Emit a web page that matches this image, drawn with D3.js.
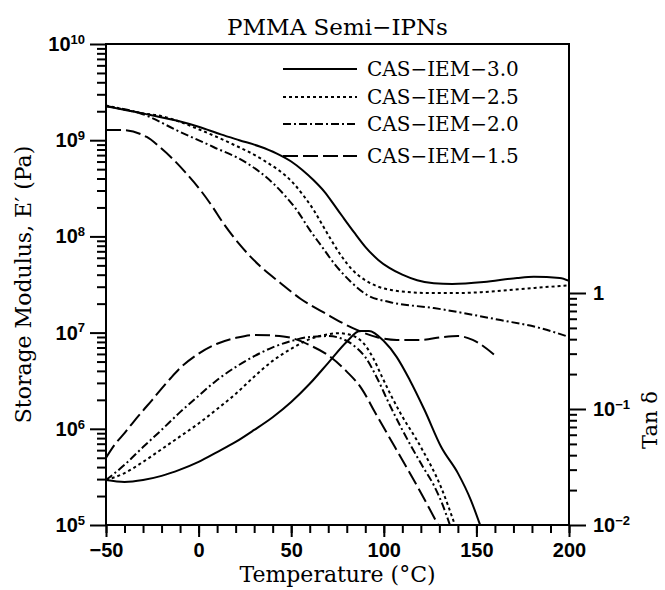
<!DOCTYPE html>
<html>
<head>
<meta charset="utf-8">
<script src="https://cdn.jsdelivr.net/npm/d3@7"></script>
<style>
body { margin: 0; background: #fff; }
</style>
</head>
<body>
<div id="chart"></div>
<script>
// sample names, as in the legend
var series = ["CAS−IEM−3.0", "CAS−IEM−2.5", "CAS−IEM−2.0", "CAS−IEM−1.5"];

// storage modulus E' (Pa) against temperature (°C)
var mod30 = [[-50,2.26e9],[-30,1.9e9],[-12,1.6e9],[0,1.38e9],[12,1.15e9],[22,1.0e9],[33,8.6e8],[42,7.3e8],[50,6.0e8],[56,4.9e8],[62,3.85e8],[68,2.9e8],[73,2.15e8],[78,1.58e8],[84,1.1e8],[90,7.8e7],[97,5.7e7],[103,4.7e7],[110,4.0e7],[118,3.5e7],[127,3.25e7],[137,3.2e7],[154,3.35e7],[172,3.7e7],[181,3.8e7],[195,3.7e7],[200,3.45e7]];
var mod25 = [[-50,2.3e9],[-30,1.9e9],[-20,1.78e9],[-10,1.55e9],[0,1.3e9],[17,9.35e8],[35,6.2e8],[51,3.6e8],[57,2.6e8],[62,1.9e8],[67,1.3e8],[72,8.9e7],[77,6.3e7],[83,4.5e7],[90,3.5e7],[97,3.0e7],[105,2.75e7],[115,2.62e7],[125,2.58e7],[140,2.58e7],[154,2.64e7],[180,2.9e7],[200,3.1e7]];
var mod20 = [[-50,2.26e9],[-32,1.92e9],[-10,1.22e9],[8,8.5e8],[26,5.8e8],[40,3.6e8],[47,2.6e8],[53,1.88e8],[60,1.17e8],[66,8.1e7],[74,5.0e7],[82,3.4e7],[91,2.46e7],[103,2.08e7],[127,1.8e7],[163,1.35e7],[184,1.12e7],[200,9.0e6]];
var mod15 = [[-50,1.28e9],[-42,1.28e9],[-28,1.08e9],[-21,8.5e8],[-14,6.4e8],[-7,4.6e8],[0,3.2e8],[7,2.1e8],[13,1.4e8],[22,8.3e7],[33,4.95e7],[44,3.3e7],[55,2.25e7],[69,1.56e7],[83,1.12e7],[96,9.0e6],[107,8.4e6],[120,8.4e6],[132,9.0e6],[140,9.2e6],[148,8.4e6],[160,5.8e6]];

// tan delta against temperature (°C)
var tan30 = [[-50,0.0244],[-40,0.0235],[-30,0.0244],[-20,0.0265],[-10,0.030],[0,0.035],[10,0.0425],[20,0.052],[30,0.066],[40,0.085],[50,0.115],[60,0.165],[70,0.25],[80,0.38],[87,0.47],[92,0.47],[100,0.385],[107,0.28],[114,0.178],[122,0.098],[131,0.047],[140,0.028],[147,0.0164],[152,0.01]];
var tan25 = [[-50,0.0244],[-40,0.028],[-30,0.035],[-20,0.045],[-10,0.058],[0,0.075],[10,0.10],[20,0.135],[30,0.19],[40,0.26],[50,0.33],[60,0.40],[68,0.435],[76,0.45],[83,0.43],[89,0.37],[94,0.28],[99,0.19],[104,0.13],[109,0.092],[120,0.047],[131,0.021],[138.4,0.01]];
var tan20 = [[-50,0.0244],[-40,0.033],[-30,0.047],[-20,0.066],[-10,0.094],[0,0.13],[10,0.178],[20,0.23],[30,0.285],[40,0.34],[50,0.385],[60,0.418],[70,0.425],[78,0.40],[85,0.34],[90,0.28],[96,0.19],[103,0.11],[110,0.066],[115,0.047],[121,0.032],[127,0.022],[131,0.016],[135.7,0.01]];
var tan15 = [[-50,0.038],[-45,0.05],[-40,0.062],[-35,0.078],[-30,0.097],[-25,0.12],[-20,0.15],[-15,0.185],[-10,0.225],[0,0.30],[10,0.365],[20,0.41],[30,0.435],[40,0.43],[50,0.41],[60,0.355],[70,0.29],[80,0.21],[88,0.15],[95,0.095],[106,0.047],[113,0.03],[120,0.019],[129.3,0.01]];

// tick values
var xMajor = [-50, 0, 50, 100, 150, 200];
var xMinor = d3.range(-50, 201, 10);
var eMajor = [1e5, 1e6, 1e7, 1e8, 1e9, 1e10];
var tMajor = [0.01, 0.1, 1];

var modSeries = [mod30, mod25, mod20, mod15];
var tanSeries = [tan30, tan25, tan20, tan15];
var dashes = [null, "3,3", "8,3,2,3", "15,5"];

// frame of the plot
var margin = {top: 44, right: 96, bottom: 65, left: 106},
    width = 665 - margin.left - margin.right,
    height = 590 - margin.top - margin.bottom;

var x = d3.scaleLinear().domain([-50, 200]).range([0, width]);
var yE = d3.scaleLog().domain([1e5, 1e10]).range([height, 0]);
// right axis: 116 px per decade, starting at 10^-2 on the bottom line
var yT = d3.scaleLog().domain([0.01, Math.pow(10, height / 116 - 2)]).range([height, 0]);

var svg = d3.select("#chart").append("svg")
    .attr("width", 665)
    .attr("height", 590)
    .style("background", "#fff");

var g = svg.append("g")
    .attr("transform", "translate(" + margin.left + "," + margin.top + ")");

var serif = "'DejaVu Serif', 'Liberation Serif', serif";
var sans = "'Liberation Sans', Arial, sans-serif";

// minor ticks from 2..9 of each decade
function minors(lo, hi) {
  var out = [];
  for (var p = lo; p < hi; p++)
    for (var k = 2; k <= 9; k++) out.push(k * Math.pow(10, p));
  return out;
}

function styleAxis(sel) {
  sel.select(".domain").remove();
  sel.selectAll("line").attr("stroke", "#000").attr("stroke-width", 2);
  sel.selectAll("text").attr("fill", "#000").attr("font-family", sans)
     .attr("font-weight", "bold").attr("font-size", 20);
}

// power-of-ten labels with a raised exponent
function powLabels(sel) {
  sel.selectAll("text").each(function(d) {
    var t = d3.select(this);
    var p = Math.round(Math.log10(d));
    t.text(null);
    if (p === 0) { t.append("tspan").text("1"); return; }
    t.append("tspan").text("10");
    t.append("tspan").attr("dy", "-0.55em").attr("font-size", 13)
     .text(p < 0 ? "−" + (-p) : p);
  });
}

// x axis
g.append("g").attr("transform", "translate(0," + height + ")")
    .call(d3.axisBottom(x).tickValues(xMinor).tickSize(8).tickFormat(""))
    .call(styleAxis);
g.append("g").attr("transform", "translate(0," + height + ")")
    .call(d3.axisBottom(x).tickValues(xMajor).tickSize(12).tickPadding(6)
      .tickFormat(function(d) { return d < 0 ? "−" + (-d) : d; }))
    .call(styleAxis);

// left axis
g.append("g")
    .call(d3.axisLeft(yE).tickValues(minors(5, 10)).tickSize(9).tickFormat(""))
    .call(styleAxis);
g.append("g")
    .call(d3.axisLeft(yE).tickValues(eMajor).tickSize(16).tickPadding(5))
    .call(styleAxis).call(powLabels);

// right axis
g.append("g").attr("transform", "translate(" + width + ",0)")
    .call(d3.axisRight(yT).tickValues(minors(-2, 0)).tickSize(8).tickFormat(""))
    .call(styleAxis);
g.append("g").attr("transform", "translate(" + width + ",0)")
    .call(d3.axisRight(yT).tickValues(tMajor).tickSize(17).tickPadding(7))
    .call(styleAxis).call(powLabels);

// frame
g.append("rect")
    .attr("width", width).attr("height", height)
    .attr("fill", "none").attr("stroke", "#000").attr("stroke-width", 2);

g.append("clipPath").attr("id", "clip")
  .append("rect").attr("width", width).attr("height", height);

var lineE = d3.line().curve(d3.curveMonotoneX)
    .x(function(d) { return x(d[0]); })
    .y(function(d) { return yE(d[1]); });
var lineT = d3.line().curve(d3.curveMonotoneX)
    .x(function(d) { return x(d[0]); })
    .y(function(d) { return yT(d[1]); });

var plot = g.append("g").attr("clip-path", "url(#clip)");

plot.selectAll(".mod")
    .data(modSeries)
  .enter().append("path")
    .attr("class", "mod")
    .attr("d", lineE)
    .attr("fill", "none").attr("stroke", "#000").attr("stroke-width", 2)
    .attr("stroke-dasharray", function(d, i) { return dashes[i]; });

plot.selectAll(".tan")
    .data(tanSeries)
  .enter().append("path")
    .attr("class", "tan")
    .attr("d", lineT)
    .attr("fill", "none").attr("stroke", "#000").attr("stroke-width", 2)
    .attr("stroke-dasharray", function(d, i) { return dashes[i]; });

// legend
var legRows = [25, 53, 80, 112];
var leg = g.selectAll(".leg")
    .data(series)
  .enter().append("g")
    .attr("class", "leg")
    .attr("transform", function(d, i) { return "translate(177," + legRows[i] + ")"; });
leg.append("line")
    .attr("x1", 0).attr("x2", 74)
    .attr("stroke", "#000").attr("stroke-width", 2)
    .attr("stroke-dasharray", function(d, i) { return dashes[i]; });
leg.append("text")
    .attr("x", 84).attr("dy", "0.36em")
    .attr("font-family", serif).attr("font-size", 20)
    .text(function(d) { return d; });

// titles
svg.append("text")
    .attr("x", margin.left + width / 2).attr("y", 35)
    .attr("text-anchor", "middle")
    .attr("font-family", serif).attr("font-size", 23)
    .text("PMMA Semi−IPNs");

svg.append("text")
    .attr("x", margin.left + width / 2).attr("y", 582)
    .attr("text-anchor", "middle")
    .attr("font-family", serif).attr("font-size", 22)
    .text("Temperature (°C)");

svg.append("text")
    .attr("transform", "translate(31," + (margin.top + height / 2) + ") rotate(-90)")
    .attr("text-anchor", "middle")
    .attr("font-family", serif).attr("font-size", 22)
    .text("Storage Modulus, E′ (Pa)");

svg.append("text")
    .attr("transform", "translate(657,420) rotate(-90)")
    .attr("text-anchor", "middle")
    .attr("font-family", serif).attr("font-size", 21)
    .text("Tan δ");
</script>
</body>
</html>
